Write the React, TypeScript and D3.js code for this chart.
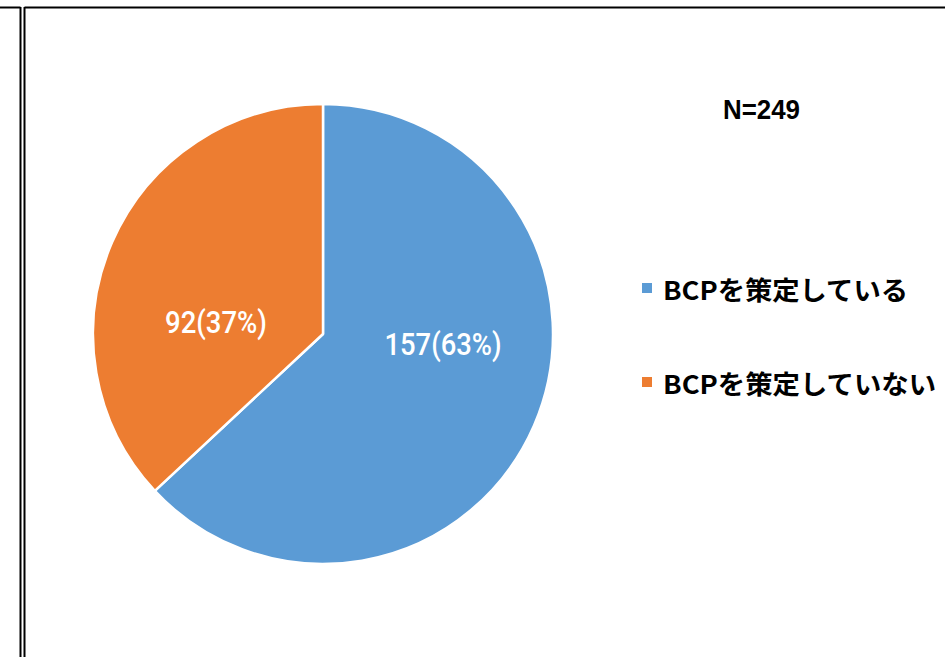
import React from "react";
import * as d3 from "d3";

const categories = ["BCPを策定している", "BCPを策定していない"];
const values = [157, 92];
const percents = ["63%", "37%"];
const colors = ["#5B9BD5", "#ED7D31"];
const totalLabel = "N=249";

export default function App() {
  const W = 945, H = 657;
  const cx = 323, cy = 334, r = 230;
  const pie = d3.pie<number>().sort(null).value((d) => d)(values);
  const arc = d3.arc<d3.PieArcDatum<number>>().innerRadius(0).outerRadius(r);
  const labelPos = [
    [443, 344],
    [216, 322],
  ];
  const labelWidths = [117, 102];
  const legendWidths = [245, 273];
  return (
    <svg width={W} height={H} style={{ position: "absolute", left: 0, top: 0, background: "#fff" }}>
      <rect x={0} y={0} width={W} height={H} fill="#fff" />
      <line x1={0} y1={7.5} x2={20.5} y2={7.5} stroke="#000" strokeWidth={2} />
      <line x1={20.5} y1={7} x2={20.5} y2={H} stroke="#000" strokeWidth={2} />
      <line x1={24.5} y1={7.5} x2={W} y2={7.5} stroke="#000" strokeWidth={2} />
      <line x1={24.5} y1={7} x2={24.5} y2={H} stroke="#000" strokeWidth={2} />
      <g transform={`translate(${cx},${cy})`}>
        {pie.map((p, i) => (
          <path key={i} d={arc(p) || ""} fill={colors[i]} stroke="#fff" strokeWidth={2.5} strokeLinejoin="round" />
        ))}
      </g>
      {pie.map((p, i) => (
        <text
          key={i}
          x={labelPos[i][0] - labelWidths[i] / 2}
          y={labelPos[i][1]}
          dominantBaseline="central"
          fill="#fff"
          fontFamily="Roboto, sans-serif"
          fontSize={31}
          fontWeight={500}
          textLength={labelWidths[i]}
          lengthAdjust="spacingAndGlyphs"
        >
          {`${values[i]}(${percents[i]})`}
        </text>
      ))}
      <text x={723} y={109} dominantBaseline="central" fontFamily="'Liberation Sans', Arial, sans-serif" fontWeight="bold" fontSize={28} fill="#000" textLength={77} lengthAdjust="spacingAndGlyphs">
        {totalLabel}
      </text>
      {categories.map((c, i) => (
        <g key={c} transform={`translate(0, ${288 + i * 94})`}>
          <rect x={642} y={-5} width={10} height={10} fill={colors[i]} />
          <text x={663} y={0} dominantBaseline="central" fontFamily="'Noto Sans CJK JP', sans-serif" fontWeight="bold" fontSize={26} fill="#000" textLength={legendWidths[i]} lengthAdjust="spacingAndGlyphs">
            {c}
          </text>
        </g>
      ))}
    </svg>
  );
}
